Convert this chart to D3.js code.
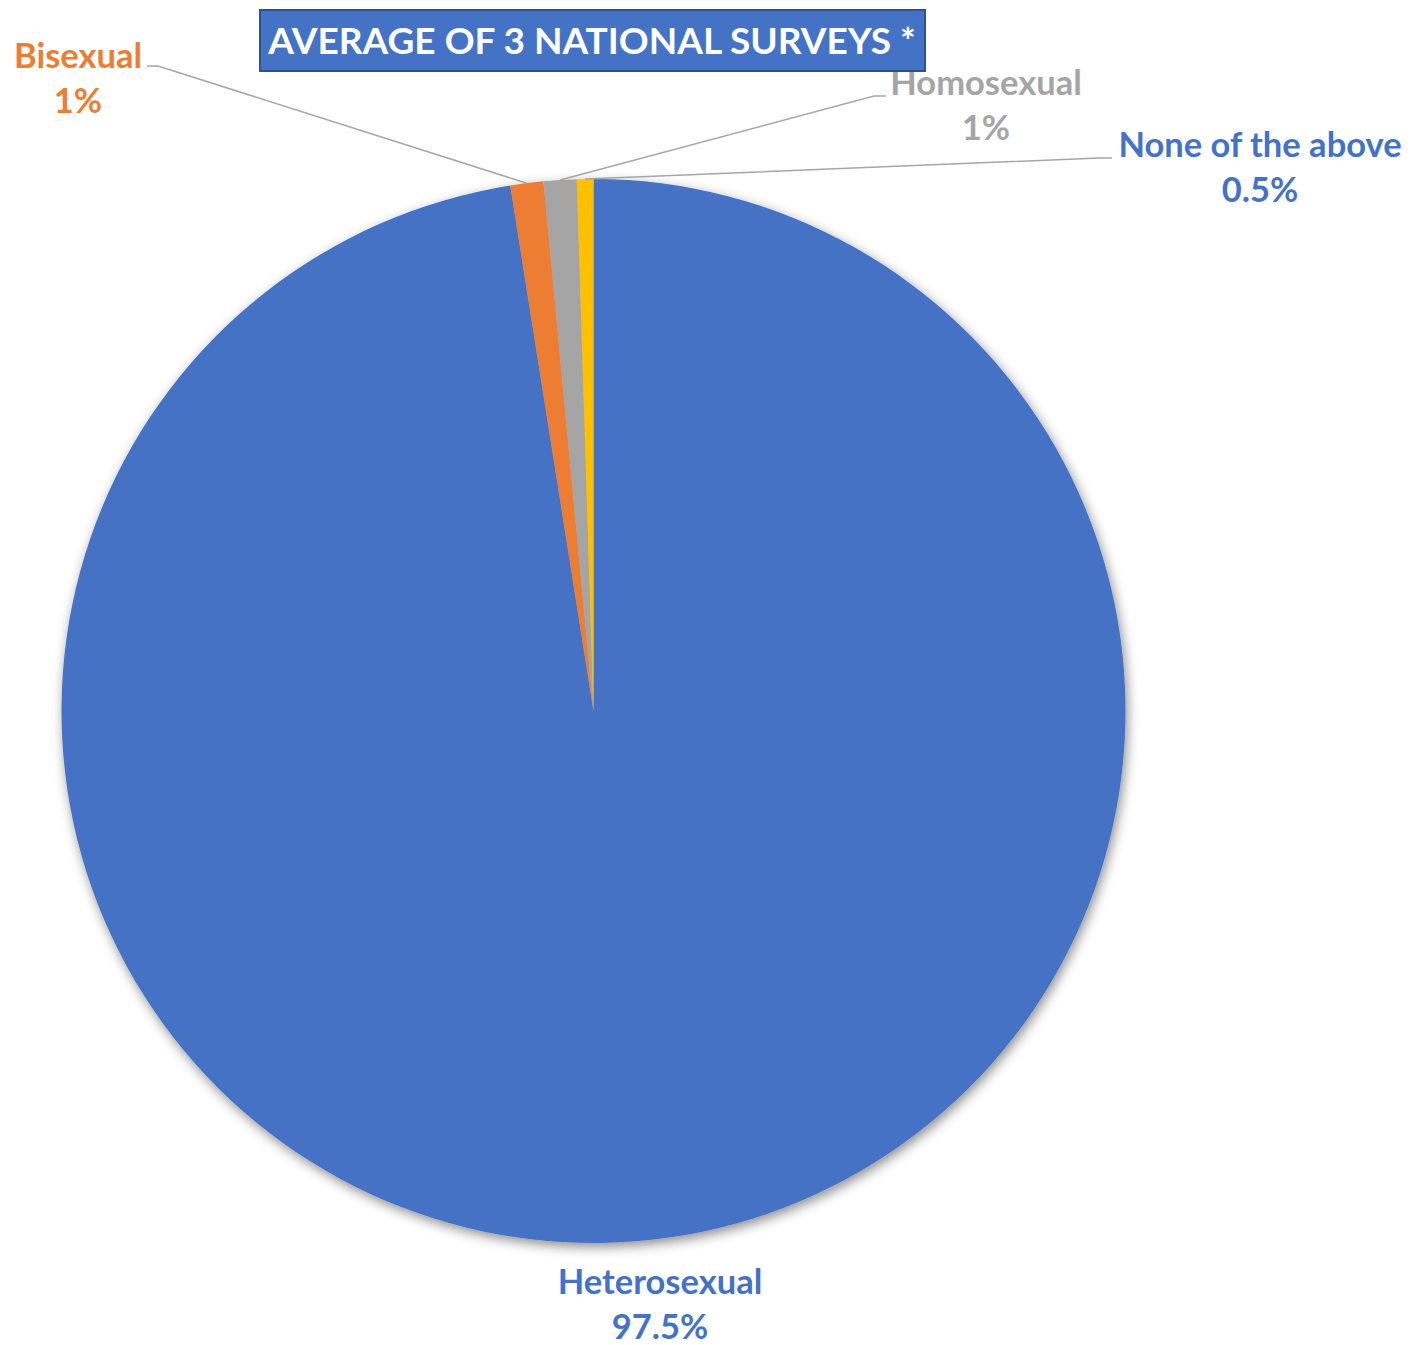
<!DOCTYPE html>
<html>
<head>
  <meta charset="utf-8">
  <title>Average of 3 national surveys</title>
  <script src="https://cdn.jsdelivr.net/npm/d3@7/dist/d3.min.js"></script>
  <style>
    body { margin: 0; background: #fff; }
    text { font-family: Lato, "Open Sans", sans-serif; font-weight: bold; }
  </style>
</head>
<body>
<svg id="chart"></svg>
<script>
  // data
  var categories = ["Heterosexual", "Bisexual", "Homosexual", "None of the above"];
  var values = [97.5, 1, 1, 0.5];
  var valueLabels = ["97.5%", "1%", "1%", "0.5%"];
  var colors = ["#4472C4", "#ED7D31", "#A5A5A5", "#FFC000"];
  var labelColors = ["#4472C4", "#ED7D31", "#A5A5A5", "#4472C4"];
  var title = "AVERAGE OF 3 NATIONAL SURVEYS *";

  var width = 1413, height = 1345;
  var cx = 593.5, cy = 711, radius = 532;

  // where each label sits (x centre, baseline of first row) and its leader elbow
  var labelPos = [
    { x: 660, y: 1294, leader: null },
    { x: 78, y: 68, leader: [[147, 66], [158, 66]] },
    { x: 986, y: 95, leader: [[886, 96], [874, 96]] },
    { x: 1260, y: 157, leader: [[1112, 158], [1099, 158]] }
  ];

  var svg = d3.select("#chart").attr("width", width).attr("height", height);

  var defs = svg.append("defs");
  var f = defs.append("filter").attr("id", "shadow")
    .attr("x", "-10%").attr("y", "-10%").attr("width", "120%").attr("height", "120%");
  f.append("feDropShadow").attr("dx", 2).attr("dy", 4)
    .attr("stdDeviation", 6).attr("flood-color", "#000").attr("flood-opacity", 0.45);

  var pie = d3.pie().sort(null).value(function(d) { return d; });
  var arcs = pie(values);
  var arc = d3.arc().innerRadius(0).outerRadius(radius);
  var edge = d3.arc().innerRadius(radius).outerRadius(radius);

  var g = svg.append("g").attr("transform", "translate(" + cx + "," + cy + ")");
  g.append("g").attr("filter", "url(#shadow)")
    .selectAll("path").data(arcs).enter().append("path")
    .attr("d", arc)
    .attr("fill", function(d, i) { return colors[i]; });

  // leader lines
  arcs.forEach(function(d, i) {
    var lp = labelPos[i];
    if (!lp.leader) return;
    var c = edge.centroid(d);
    var pts = lp.leader.concat([[c[0] + cx, c[1] + cy]]);
    svg.append("polyline")
      .attr("points", pts.map(function(p) { return p.join(","); }).join(" "))
      .attr("fill", "none").attr("stroke", "#A6A6A6").attr("stroke-width", 1.5);
  });

  // labels
  categories.forEach(function(name, i) {
    var lp = labelPos[i];
    var t = svg.append("text")
      .attr("text-anchor", "middle")
      .attr("fill", labelColors[i])
      .style("font-size", "34.5px");
    t.append("tspan").attr("x", lp.x).attr("y", lp.y).text(name);
    t.append("tspan").attr("x", lp.x).attr("y", lp.y + 45).text(valueLabels[i]);
  });

  // title box
  var tb = svg.append("g");
  tb.append("rect").attr("x", 260).attr("y", 10).attr("width", 665).attr("height", 61)
    .attr("fill", "#4472C4").attr("stroke", "#2F528F").attr("stroke-width", 2);
  tb.append("text").attr("x", 592).attr("y", 54).attr("text-anchor", "middle")
    .attr("fill", "#fff").style("font-size", "37px").text(title);
</script>
</body>
</html>
